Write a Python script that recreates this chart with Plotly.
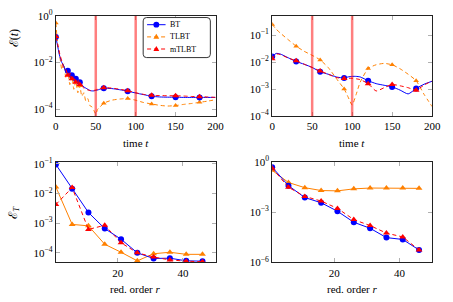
import plotly.graph_objects as go

# ---------------- data (log10 of the error values) ----------------
tl_t = [0, 2.5, 5, 7.5, 10, 12.5, 15, 17.5, 20, 22.5, 25, 27.5, 30, 32.5, 35, 37.5, 40, 42.5,
        45, 47.5, 50, 52.5, 55, 60, 70, 80, 90, 100, 110, 120, 130, 140, 150, 160, 170, 180, 190, 200]
tl_bt_exp = [-0.9, -1.35, -1.75, -2.0, -2.15, -2.4, -2.35, -2.6, -2.55, -2.75, -2.7, -2.85, -2.85,
             -2.95, -3.05, -3.1, -3.15, -3.2, -3.22, -3.22, -3.2, -3.18, -3.15, -3.11, -3.12, -3.17,
             -3.23, -3.31, -3.38, -3.45, -3.48, -3.49, -3.49, -3.5, -3.5, -3.5, -3.5, -3.5]
tl_tlbt_exp = [-0.3, -1.3, -1.75, -2.3, -2.05, -2.65, -2.4, -2.95, -2.6, -3.15, -2.8, -3.3, -3.0,
               -3.45, -3.3, -3.65, -3.55, -3.85, -3.9, -4.05, -4.22, -4.0, -3.92, -3.75, -3.62, -3.57,
               -3.55, -3.62, -3.72, -3.78, -3.84, -3.87, -3.85, -3.8, -3.76, -3.71, -3.66, -3.6]
tl_mtlbt_exp = [-0.88, -1.25, -1.65, -1.95, -2.25, -2.3, -2.55, -2.45, -2.7, -2.6, -2.85, -2.75, -2.95,
                -3.0, -3.1, -3.12, -3.18, -3.2, -3.22, -3.2, -3.18, -3.15, -3.12, -3.08, -3.1, -3.15,
                -3.21, -3.3, -3.37, -3.41, -3.42, -3.43, -3.43, -3.44, -3.46, -3.47, -3.48, -3.5]
tl_mark_t = [0, 15, 20, 25, 30, 60, 90, 120, 150, 180]

tr_t = [0, 5, 10, 20, 30, 40, 50, 60, 70, 80, 90, 95, 100, 105, 110, 120, 130, 140, 150, 160, 170, 180, 190, 200]
tr_bt_exp = [-1.79, -1.68, -1.70, -1.84, -1.98, -2.08, -2.20, -2.36, -2.45, -2.55, -2.59, -2.55, -2.53,
             -2.53, -2.55, -2.69, -2.80, -2.86, -2.92, -3.04, -3.18, -2.98, -2.82, -2.71]
tr_tlbt_exp = [-0.61, -0.78, -0.92, -1.17, -1.41, -1.6, -1.75, -1.92, -2.2, -2.6, -3.0, -3.3, -3.59,
               -3.2, -2.75, -2.24, -2.1, -2.05, -2.10, -2.25, -2.45, -2.69, -3.2, -3.65]
tr_mtlbt_exp = [-1.88, -1.70, -1.72, -1.85, -1.95, -2.08, -2.2, -2.33, -2.45, -2.57, -2.61, -2.6, -2.6,
                -2.62, -2.65, -2.80, -3.07, -2.95, -2.83, -2.88, -2.95, -3.04, -2.85, -2.7]
tr_mark_t = [0, 30, 60, 90, 120, 150, 180]

switch_times = [50, 100]

r_order = [1, 6, 11, 16, 21, 26, 31, 36, 41, 46]
bl_bt_exp = [-1.02, -1.84, -2.64, -3.18, -3.54, -4.0, -4.19, -4.18, -4.27, -4.28]
bl_tlbt_exp = [-1.78, -3.04, -3.09, -3.71, -3.98, -4.27, -4.03, -3.98, -4.05, -4.05]
bl_mtlbt_exp = [-2.37, -1.80, -3.21, -3.07, -3.66, -4.0, -4.14, -4.24, -4.28, -4.3]
br_bt_exp = [-0.30, -1.41, -2.12, -2.43, -2.94, -3.60, -3.96, -4.52, -4.63, -5.26]
br_tlbt_exp = [-0.49, -1.22, -1.53, -1.70, -1.72, -1.60, -1.55, -1.55, -1.55, -1.57]
br_mtlbt_exp = [-0.36, -1.51, -2.05, -2.33, -2.77, -3.44, -3.80, -4.25, -4.48, -5.26]

series_names = ["BT", "TLBT", "mTLBT"]

# ---------------- styling ----------------
W, H = 453, 302
BLUE = "#0000ff"
ORANGE = "#ff8000"
RED = "#ff0000"
FONT = "Liberation Serif, Times New Roman, serif"
DASH = "4px,3px"


def pw(exps):
    return [10 ** e for e in exps]


def subset(xs, ys, keep):
    xx, yy = [], []
    for x, y in zip(xs, ys):
        if x in keep:
            xx.append(x)
            yy.append(y)
    return xx, yy


fig = go.Figure()


def add_series(xs, exps, color, dash, symbol, msize, xa, ya, marks=None, shape="linear"):
    ys = pw(exps)
    fig.add_trace(go.Scatter(x=xs, y=ys, mode="lines", xaxis=xa, yaxis=ya, showlegend=False,
                             line=dict(color=color, width=1, dash=dash, shape=shape, smoothing=0.6),
                             hoverinfo="skip"))
    if marks is None:
        mx, my = xs, ys
    else:
        mx, my = subset(xs, ys, marks)
    fig.add_trace(go.Scatter(x=mx, y=my, mode="markers", xaxis=xa, yaxis=ya, showlegend=False,
                             marker=dict(color=color, size=msize, symbol=symbol, line=dict(width=0))))


# top-left
add_series(tl_t, tl_tlbt_exp, ORANGE, DASH, "triangle-up", 5, "x", "y", tl_mark_t, "spline")
add_series(tl_t, tl_bt_exp, BLUE, "solid", "circle", 6, "x", "y", tl_mark_t, "spline")
add_series(tl_t, tl_mtlbt_exp, RED, DASH, "triangle-up", 6, "x", "y", tl_mark_t, "spline")
# top-right
add_series(tr_t, tr_tlbt_exp, ORANGE, DASH, "triangle-up", 5, "x2", "y2", tr_mark_t, "spline")
add_series(tr_t, tr_bt_exp, BLUE, "solid", "circle", 6, "x2", "y2", tr_mark_t, "spline")
add_series(tr_t, tr_mtlbt_exp, RED, DASH, "triangle-up", 6, "x2", "y2", tr_mark_t, "spline")
# bottom-left
add_series(r_order, bl_tlbt_exp, ORANGE, "solid", "triangle-up", 6, "x3", "y3")
add_series(r_order, bl_bt_exp, BLUE, "solid", "circle", 6, "x3", "y3")
add_series(r_order, bl_mtlbt_exp, RED, DASH, "triangle-up", 6, "x3", "y3")
# bottom-right
add_series(r_order, br_tlbt_exp, ORANGE, "solid", "triangle-up", 6, "x4", "y4")
add_series(r_order, br_bt_exp, BLUE, "solid", "circle", 6, "x4", "y4")
add_series(r_order, br_mtlbt_exp, RED, DASH, "triangle-up", 6, "x4", "y4")

# vertical switching lines
for xa in ["x", "x2"]:
    for ts in switch_times:
        fig.add_shape(type="line", xref=xa, yref=xa.replace("x", "y") + " domain", x0=ts, x1=ts, y0=0, y1=1,
                      line=dict(color="rgba(255,0,0,0.5)", width=2.5))


def px(x):
    return x / W


def py(y):
    return 1 - y / H


# ---------------- hand-drawn legend (pgfplots style, rounded box) ----------------
lx0, lx1, ly0, ly1, rad = 144, 213, 10, 52, 3.5
rx, ry = rad / W, rad / H
path = (f"M {px(lx0)+rx},{py(ly0)} L {px(lx1)-rx},{py(ly0)} Q {px(lx1)},{py(ly0)} {px(lx1)},{py(ly0)-ry} "
        f"L {px(lx1)},{py(ly1)+ry} Q {px(lx1)},{py(ly1)} {px(lx1)-rx},{py(ly1)} "
        f"L {px(lx0)+rx},{py(ly1)} Q {px(lx0)},{py(ly1)} {px(lx0)},{py(ly1)+ry} "
        f"L {px(lx0)},{py(ly0)-ry} Q {px(lx0)},{py(ly0)} {px(lx0)+rx},{py(ly0)} Z")
fig.add_shape(type="path", xref="paper", yref="paper", path=path,
              line=dict(color="#333333", width=1), fillcolor="white", layer="above")

rows_y = [17.5, 30.3, 43.0]
for name, color, dash, sym, yy in zip(series_names, [BLUE, ORANGE, RED], ["solid", DASH, DASH],
                                      ["circle", "triangle", "triangle"], rows_y):
    fig.add_shape(type="line", xref="paper", yref="paper", x0=px(148), x1=px(167), y0=py(yy), y1=py(yy),
                  line=dict(color=color, width=1, dash=dash), layer="above")
    cx = 157.5
    if sym == "circle":
        fig.add_shape(type="circle", xref="paper", yref="paper", x0=px(cx - 3), x1=px(cx + 3),
                      y0=py(yy - 3), y1=py(yy + 3), fillcolor=color, line=dict(width=0), layer="above")
    else:
        tri = f"M {px(cx)},{py(yy-3.2)} L {px(cx+3)},{py(yy+2)} L {px(cx-3)},{py(yy+2)} Z"
        fig.add_shape(type="path", xref="paper", yref="paper", path=tri, fillcolor=color,
                      line=dict(width=0), layer="above")
    fig.add_annotation(text=name, x=px(170), y=py(yy), xref="paper", yref="paper", showarrow=False,
                       xanchor="left", yanchor="middle", font=dict(family=FONT, size=8, color="#000"))


def sup(e):
    return "10<sup>" + ("\u2212" + str(-e) if e < 0 else str(e)) + "</sup>"


axis_common = dict(showline=True, linecolor="#222222", linewidth=1, mirror="ticks", ticks="inside",
                   ticklen=4, tickcolor="#b0b0b0", showgrid=False, zeroline=False,
                   tickfont=dict(family=FONT, size=11, color="#000"))

XL = [54.3 / W, 218.3 / W]
XR = [276.5 / W, 440.8 / W]
YT = [(H - 113.3) / H, (H - 8.3) / H]
YB = [(H - 266.7) / H, (H - 161.3) / H]

fig.update_layout(
    width=W, height=H, margin=dict(l=0, r=0, t=0, b=0), autosize=False,
    paper_bgcolor="white", plot_bgcolor="white",
    font=dict(family=FONT, size=11, color="#000"),
    showlegend=False,
    xaxis=dict(domain=XL, anchor="y", range=[0, 200], tickvals=[0, 50, 100, 150, 200], **axis_common),
    yaxis=dict(domain=YT, anchor="x", type="log", range=[-4.3, 0], tickvals=[1, 1e-2, 1e-4],
               ticktext=[sup(0), sup(-2), sup(-4)], **axis_common),
    xaxis2=dict(domain=XR, anchor="y2", range=[0, 200], tickvals=[0, 50, 100, 150, 200], **axis_common),
    yaxis2=dict(domain=YT, anchor="x2", type="log", range=[-4, -0.29], tickvals=[1e-1, 1e-2, 1e-3, 1e-4],
                ticktext=[sup(-1), sup(-2), sup(-3), sup(-4)], **axis_common),
    xaxis3=dict(domain=XL, anchor="y3", range=[1, 50], tickvals=[20, 40], **axis_common),
    yaxis3=dict(domain=YB, anchor="x3", type="log", range=[-4.32, -0.93], tickvals=[1e-1, 1e-2, 1e-3, 1e-4],
                ticktext=[sup(-1), sup(-2), sup(-3), sup(-4)], **axis_common),
    xaxis4=dict(domain=XR, anchor="y4", range=[1, 50], tickvals=[20, 40], **axis_common),
    yaxis4=dict(domain=YB, anchor="x4", type="log", range=[-6, 0.02], tickvals=[1, 1e-3, 1e-6],
                ticktext=[sup(0), sup(-3), sup(-6)], **axis_common),
)


def ann(text, x, y, angle=0, size=11):
    fig.add_annotation(text=text, x=px(x), y=py(y), xref="paper", yref="paper", showarrow=False,
                       textangle=angle, font=dict(family=FONT, size=size, color="#000"),
                       xanchor="center", yanchor="middle")


ann("time <i>t</i>", 136.3, 142)
ann("time <i>t</i>", 358.7, 142)
ann("red. order <i>r</i>", 136.3, 295)
ann("red. order <i>r</i>", 358.7, 295)
ann("\u2130(<i>t</i>)", 11, 32, -90, 12)
ann("\u2130<sub><i>T</i></sub>", 11, 214, -90, 12)

fig.write_html("out.html", config={"displayModeBar": False},
               post_script="document.body.style.margin='0px';document.body.style.overflow='hidden';")
